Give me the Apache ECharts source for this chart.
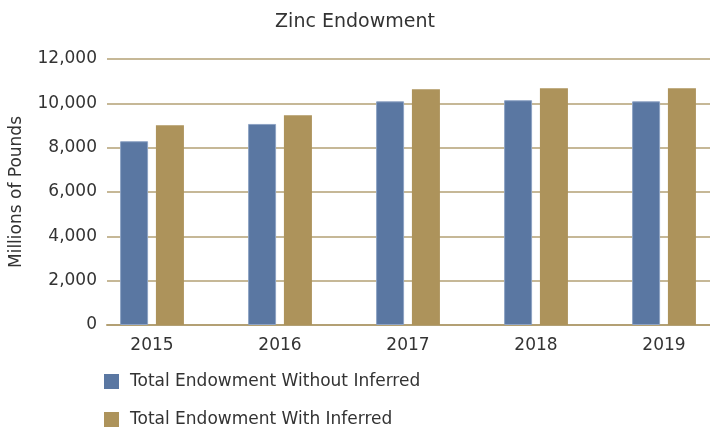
<!DOCTYPE html>
<html>
<head>
<meta charset="utf-8">
<script src="https://cdn.jsdelivr.net/npm/echarts@6/dist/echarts.min.js"></script>
<style>
  html, body { margin: 0; padding: 0; background: #fff; }
  #chart { width: 710px; height: 430px; }
</style>
</head>
<body>
<div id="chart"></div>
<script>
  var years = ['2015', '2016', '2017', '2018', '2019'];
  var withoutInferred = [8290, 9070, 10090, 10140, 10090];
  var withInferred = [9010, 9460, 10630, 10680, 10680];
  var yTicks = [0, 2000, 4000, 6000, 8000, 10000, 12000];

  var font = 'DejaVu Sans';
  var gold = '#b3a074';

  var chart = echarts.init(document.getElementById('chart'));
  var option = {
    animation: false,
    title: {
      text: 'Zinc Endowment',
      left: 'center',
      top: 8,
      textStyle: { fontFamily: font, fontSize: 19, fontWeight: 'normal', color: '#333' }
    },
    legend: {
      orient: 'vertical',
      left: 104,
      top: 373,
      height: 58,
      padding: 0,
      itemWidth: 15,
      itemHeight: 15,
      itemGap: 21,
      icon: 'rect',
      itemStyle: { borderWidth: 0 },
      textStyle: { fontFamily: font, fontSize: 17, color: '#333', padding: [0, 0, 0, 6] },
      data: ['Total Endowment Without Inferred', 'Total Endowment With Inferred']
    },
    grid: [
      { left: 107, right: 0, top: 59, bottom: 105, outerBoundsMode: 'none' },
      { left: 88, width: 640, top: 59, bottom: 105, outerBoundsMode: 'none' }
    ],
    xAxis: [
      {
        type: 'category',
        gridIndex: 0,
        data: years,
        axisLine: { lineStyle: { color: gold, width: 2 } },
        axisTick: { show: false },
        axisLabel: { show: false }
      },
      {
        type: 'category',
        gridIndex: 1,
        data: years,
        axisLine: { show: false },
        axisTick: { show: false },
        axisLabel: { fontFamily: font, fontSize: 17, color: '#333', margin: 12 }
      }
    ],
    yAxis: [
      {
        type: 'value',
        gridIndex: 0,
        min: yTicks[0],
        max: yTicks[yTicks.length - 1],
        interval: 2000,
        name: 'Millions of Pounds',
        nameLocation: 'middle',
        nameGap: 82,
        nameTextStyle: { fontFamily: font, fontSize: 17, color: '#333' },
        axisLine: { show: false },
        axisTick: { show: false },
        axisLabel: {
          fontFamily: font, fontSize: 17, color: '#333', margin: 10,
          formatter: function (v) { return v.toLocaleString('en-US'); }
        },
        splitLine: { lineStyle: { color: gold, width: 1.5 } }
      },
      {
        type: 'value',
        gridIndex: 1,
        min: yTicks[0],
        max: yTicks[yTicks.length - 1],
        interval: 2000,
        show: false,
        splitLine: { show: false }
      }
    ],
    series: [
      {
        name: 'Total Endowment Without Inferred',
        type: 'bar',
        xAxisIndex: 1,
        yAxisIndex: 1,
        barWidth: 28,
        barGap: '28%',
        data: withoutInferred,
        itemStyle: { color: '#5a77a2', borderColor: '#8ea3c4', borderWidth: 1 }
      },
      {
        name: 'Total Endowment With Inferred',
        type: 'bar',
        xAxisIndex: 1,
        yAxisIndex: 1,
        barWidth: 28,
        data: withInferred,
        itemStyle: { color: '#ad935b' }
      }
    ]
  };
  chart.setOption(option);
</script>
</body>
</html>
